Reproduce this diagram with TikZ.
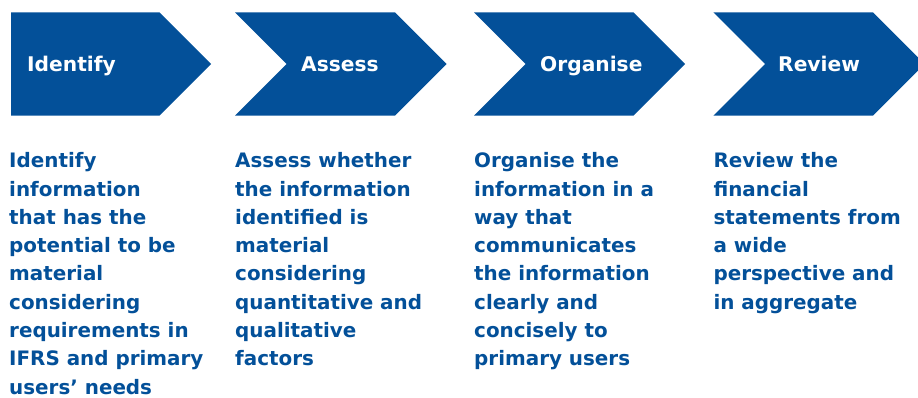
\documentclass[tikz,border=0pt]{standalone}
\usepackage{fontspec}
\setmainfont{DejaVu Sans}
\definecolor{stepblue}{RGB}{3,80,153}
\begin{document}
\begin{tikzpicture}[x=1pt,y=-1pt,
  chevron/.style={fill=stepblue,draw=none},
  steptitle/.style={anchor=base west,inner sep=0pt,text=white,
    font=\bfseries\fontsize{20.2}{24}\selectfont},
  % descriptions are placed by the baseline of their last line (28.3pt leading)
  stepnote/.style={anchor=base west,inner sep=0pt,text=stepblue,align=left,
    font=\bfseries\fontsize{19.9}{28.3}\selectfont}]
\useasboundingbox (0,0) rectangle (918,397);
\clip (0,0) rectangle (918,397);
% process chevrons (top 12.3, bottom 115.7, point depth 51.7)
\fill[chevron] (11,12.3) -- (159.5,12.3) -- (211.2,64) -- (159.5,115.7) -- (11,115.7) -- cycle;
\foreach \l/\r in {235/395, 474/633.3, 713.3/873}{
  \fill[chevron] (\l,12.3) -- (\r,12.3) -- ({\r+51.7},64) -- (\r,115.7)
    -- (\l,115.7) -- ({\l+51.7},64) -- cycle;
}
% step titles
\node[steptitle] (t1) at (27,71) {Identify};
\node[steptitle] (t2) at (301,71) {Assess};
\node[steptitle] (t3) at (540,71) {Organise};
\node[steptitle] (t4) at (778,71) {Review};
% step descriptions (first baseline at 167.7)
\node[stepnote] (d1) at (9,394.1) {Identify\\information\\that has the\\potential to be\\material\\considering\\requirements in\\IFRS and primary\\users’ needs};
\node[stepnote] (d2) at (235,365.8) {Assess whether\\the information\\identified is\\material\\considering\\quantitative and\\qualitative\\factors};
\node[stepnote] (d3) at (474,365.8) {Organise the\\information in a\\way that\\communicates\\the information\\clearly and\\concisely to\\primary users};
\node[stepnote] (d4) at (713.3,309.2) {Review the\\financial\\statements from\\a wide\\perspective and\\in aggregate};
\end{tikzpicture}
\end{document}
